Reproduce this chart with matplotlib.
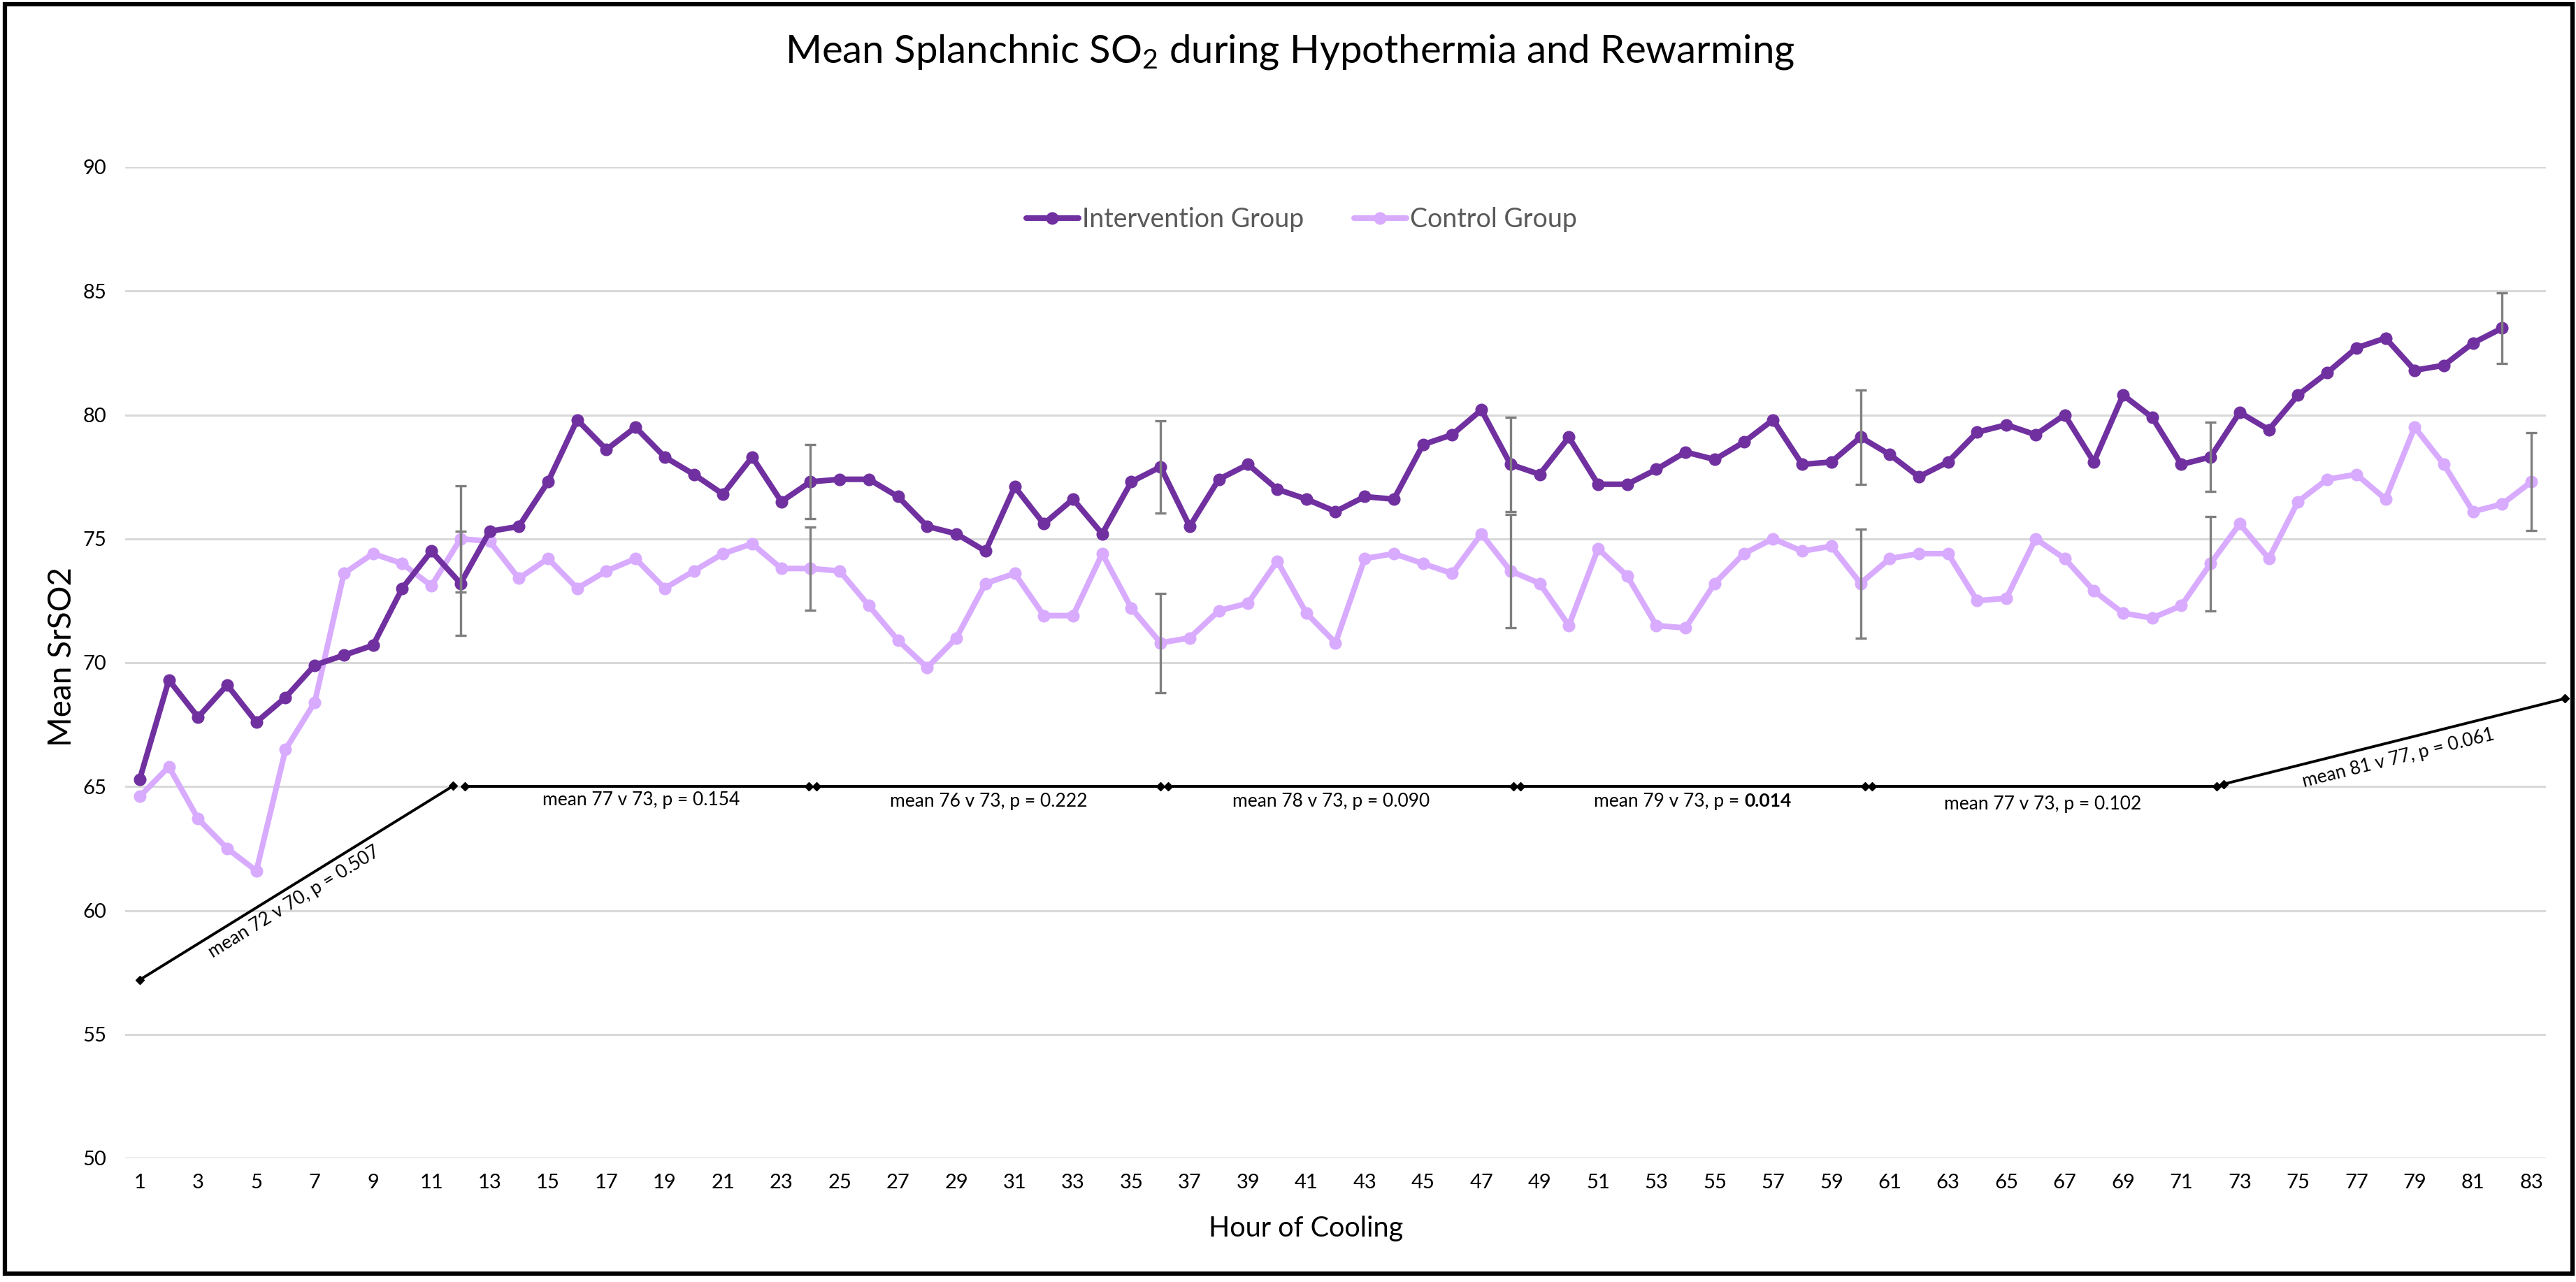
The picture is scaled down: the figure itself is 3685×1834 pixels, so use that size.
import matplotlib
matplotlib.use("Agg")
import matplotlib.pyplot as plt
from matplotlib.patches import Rectangle
from matplotlib.offsetbox import TextArea, HPacker, AnnotationBbox

plt.rcParams['font.family'] = ['Lato', 'DejaVu Sans']
plt.rcParams['mathtext.fontset'] = 'custom'
plt.rcParams['mathtext.rm'] = 'Lato'
plt.rcParams['mathtext.it'] = 'Lato:italic'
plt.rcParams['mathtext.bf'] = 'Lato:bold'

# ---------------- data ----------------
hours = list(range(1, 84))

intervention = [
    65.3, 69.3, 67.8, 69.1, 67.6, 68.6, 69.9, 70.3, 70.7, 73.0,
    74.5, 73.2, 75.3, 75.5, 77.3, 79.8, 78.6, 79.5, 78.3, 77.6,
    76.8, 78.3, 76.5, 77.3, 77.4, 77.4, 76.7, 75.5, 75.2, 74.5,
    77.1, 75.6, 76.6, 75.2, 77.3, 77.9, 75.5, 77.4, 78.0, 77.0,
    76.6, 76.1, 76.7, 76.6, 78.8, 79.2, 80.2, 78.0, 77.6, 79.1,
    77.2, 77.2, 77.8, 78.5, 78.2, 78.9, 79.8, 78.0, 78.1, 79.1,
    78.4, 77.5, 78.1, 79.3, 79.6, 79.2, 80.0, 78.1, 80.8, 79.9,
    78.0, 78.3, 80.1, 79.4, 80.8, 81.7, 82.7, 83.1, 81.8, 82.0,
    82.9, 83.5,
]

control = [
    64.6, 65.8, 63.7, 62.5, 61.6, 66.5, 68.4, 73.6, 74.4, 74.0,
    73.1, 75.0, 74.9, 73.4, 74.2, 73.0, 73.7, 74.2, 73.0, 73.7,
    74.4, 74.8, 73.8, 73.8, 73.7, 72.3, 70.9, 69.8, 71.0, 73.2,
    73.6, 71.9, 71.9, 74.4, 72.2, 70.8, 71.0, 72.1, 72.4, 74.1,
    72.0, 70.8, 74.2, 74.4, 74.0, 73.6, 75.2, 73.7, 73.2, 71.5,
    74.6, 73.5, 71.5, 71.4, 73.2, 74.4, 75.0, 74.5, 74.7, 73.2,
    74.2, 74.4, 74.4, 72.5, 72.6, 75.0, 74.2, 72.9, 72.0, 71.8,
    72.3, 74.0, 75.6, 74.2, 76.5, 77.4, 77.6, 76.6, 79.5, 78.0,
    76.1, 76.4, 77.3,
]

int_err_hours = [12, 24, 36, 48, 60, 72, 82]
int_err = [2.1, 1.5, 1.85, 1.9, 1.9, 1.4, 1.42]
ctl_err_hours = [12, 24, 36, 48, 60, 72, 83]
ctl_err = [2.15, 1.68, 2.0, 2.28, 2.2, 1.9, 1.98]

y_ticks = [50, 55, 60, 65, 70, 75, 80, 85, 90]
x_tick_hours = hours[::2]

series_names = ["Intervention Group", "Control Group"]
title_text = "Mean Splanchnic SO$_2$ during Hypothermia and Rewarming"
x_label = "Hour of Cooling"
y_label = "Mean SrSO2"

period_labels = [
    "mean 72 v 70, p = 0.507",
    "mean 77 v 73, p = 0.154",
    "mean 76 v 73, p = 0.222",
    "mean 78 v 73, p = 0.090",
    ("mean 79 v 73, p = ", "0.014"),
    "mean 77 v 73, p = 0.102",
    "mean 81 v 77, p = 0.061",
]

# ---------------- figure ----------------
W, H = 3685, 1834
fig = plt.figure(figsize=(W / 100, H / 100), dpi=100)
fig.patch.set_facecolor("white")

ax_l, ax_r, ax_t, ax_b = 179, 3642, 239, 1657
ax = fig.add_axes([ax_l / W, 1 - ax_b / H, (ax_r - ax_l) / W, (ax_b - ax_t) / H])

c_int = "#7030A0"
c_ctl = "#D8ABFF"

n_int = len(intervention)
n_ctl = len(control)

ax.plot(hours[:n_int], intervention, color=c_int, lw=5.8, marker="o", ms=12,
        solid_joinstyle="round", solid_capstyle="round", label=series_names[0], zorder=4)
ax.plot(hours[:n_ctl], control, color=c_ctl, lw=5.8, marker="o", ms=12,
        solid_joinstyle="round", solid_capstyle="round", label=series_names[1], zorder=3)

int_vals_e = [intervention[h - 1] for h in int_err_hours]
ctl_vals_e = [control[h - 1] for h in ctl_err_hours]
ax.errorbar(int_err_hours, int_vals_e, yerr=int_err, fmt="none", ecolor="#7F7F7F",
            elinewidth=2.4, capsize=6, capthick=2.4, zorder=6)
ax.errorbar(ctl_err_hours, ctl_vals_e, yerr=ctl_err, fmt="none", ecolor="#7F7F7F",
            elinewidth=2.4, capsize=6, capthick=2.4, zorder=6)

ax.set_xlim(0.5, 83.5)
ax.set_ylim(50, 90)
ax.set_yticks(y_ticks)
ax.set_yticklabels([str(v) for v in y_ticks])
ax.set_xticks(x_tick_hours)
ax.set_xticklabels([str(h) for h in x_tick_hours])
ax.tick_params(axis="both", length=0, labelsize=21, colors="#000000")
ax.tick_params(axis="y", pad=19)
ax.tick_params(axis="x", pad=16)
ax.yaxis.grid(True, color="#D9D9D9", lw=2.2)
ax.set_axisbelow(True)
for s in ax.spines.values():
    s.set_visible(False)

leg = ax.legend(loc="center", bbox_to_anchor=(0.486, 0.947), ncol=2, frameon=False,
                fontsize=27, handlelength=2.0, handletextpad=0.15, columnspacing=1.9,
                labelcolor="#595959")

# ---------------- period annotations ----------------
segs = [
    ((1.0, 57.2), (11.75, 65.03)),
    ((12.15, 65.0), (23.95, 65.0)),
    ((24.2, 65.0), (36.0, 65.0)),
    ((36.25, 65.0), (48.1, 65.0)),
    ((48.35, 65.0), (60.15, 65.0)),
    ((60.4, 65.0), (72.2, 65.0)),
    ((72.45, 65.1), (84.15, 68.55)),
]
for (x0, y0), (x1, y1) in segs:
    ax.plot([x0, x1], [y0, y1], color="black", lw=2.8, clip_on=False, zorder=7,
            solid_capstyle="butt")
    ax.plot([x0, x1], [y0, y1], ls="none", marker="D", ms=6.5, color="black",
            clip_on=False, zorder=7)

ann_fs = 19
ax.text(6.3, 60.35, period_labels[0], rotation=31.6, rotation_mode="anchor",
        ha="center", va="center", fontsize=ann_fs, zorder=8)
text_pos = [(18.2, 64.45), (30.1, 64.4), (41.85, 64.4), (54.25, 64.4), (66.25, 64.3)]
for lab, (tx, ty) in zip(period_labels[1:6], text_pos):
    if isinstance(lab, tuple):
        ta1 = TextArea(lab[0], textprops=dict(fontsize=ann_fs, color="black"))
        ta2 = TextArea(lab[1], textprops=dict(fontsize=ann_fs, color="black", fontweight="bold"))
        box = HPacker(children=[ta1, ta2], align="baseline", pad=0, sep=0)
        ab = AnnotationBbox(box, (tx, ty), frameon=False, box_alignment=(0.5, 0.5),
                            pad=0, zorder=8)
        ax.add_artist(ab)
    else:
        ax.text(tx, ty, lab, ha="center", va="center", fontsize=ann_fs, zorder=8)
ax.text(78.45, 66.15, period_labels[6], rotation=14.0, rotation_mode="anchor",
        ha="center", va="center", fontsize=ann_fs, zorder=8, clip_on=False)

# ---------------- titles ----------------
fig.text(1845 / W, 1 - 75 / H, title_text, ha="center", va="center", fontsize=40.5)
fig.text(89 / W, 1 - 940 / H, y_label, ha="center", va="center", rotation=90, fontsize=33)
fig.text(1868 / W, 1 - 1758 / H, x_label, ha="center", va="center", fontsize=28.5)

# ---------------- outer border ----------------
fig.patches.append(Rectangle((7 / W, 1 - 1822 / H), (3680 - 7) / W, (1822 - 6) / H,
                             transform=fig.transFigure, fill=False, ec="black",
                             lw=4.5, zorder=10))

fig.savefig("out.png", dpi=100, facecolor="white")
